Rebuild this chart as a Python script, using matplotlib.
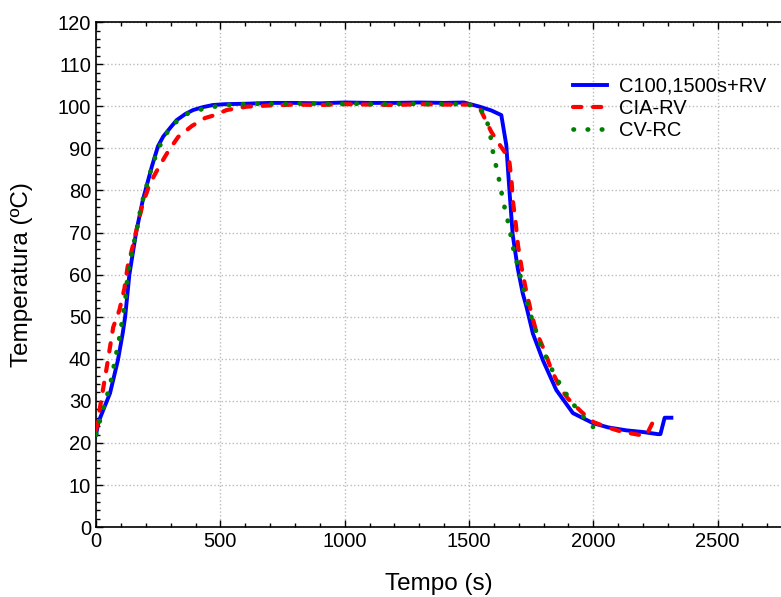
import numpy as np
import matplotlib
matplotlib.use("Agg")
import matplotlib.pyplot as plt
from matplotlib.ticker import MultipleLocator

plt.rcParams['font.family'] = ['Liberation Sans', 'DejaVu Sans']

# C100,1500s+RV
t_c100 = [0, 10, 30, 56, 88, 107, 117, 134, 161, 188, 224, 249, 270, 300, 324, 360, 390, 430, 470,
          520, 600, 700, 800, 900, 1000, 1100, 1200, 1300, 1400, 1480, 1543, 1590, 1630,
          1650, 1664, 1676, 1696, 1716, 1731, 1757, 1797, 1851, 1918, 1999, 2060, 2133,
          2200, 2259, 2270, 2287, 2314]
y_c100 = [22, 25, 28, 31.8, 39.7, 46, 50, 60, 70, 77.7, 85.6, 90.5, 92.8, 95, 96.7, 98.2, 99.1, 99.8, 100.3,
          100.5, 100.6, 100.8, 100.8, 100.7, 100.9, 100.8, 100.8, 100.9, 100.8, 100.9, 99.9, 99.0, 97.9,
          90.8, 78.9, 69.4, 61.5, 55.6, 52.4, 46, 39.7, 32.6, 27.1, 24.7, 23.7, 23,
          22.6, 22.1, 22.1, 26, 26]

# CIA-RV
t_cia = [0, 16, 43, 69, 94, 114, 127, 147, 167, 188, 217, 257, 289, 330, 385, 438, 478, 525,
         605, 700, 800, 900, 1000, 1100, 1200, 1300, 1400, 1500, 1543, 1557, 1590, 1624, 1661,
         1671, 1677, 1688, 1697, 1711, 1728, 1751, 1771, 1805, 1832, 1865, 1897, 1952, 1999,
         2052, 2113, 2187, 2215, 2230, 2240]
y_cia = [23, 28.5, 38, 47.5, 51.6, 56.7, 61.9, 66.6, 71.8, 76.9, 81.7, 86, 89.2, 92.7, 95.3, 97.2, 97.9, 99.1,
         99.9, 100.2, 100.4, 100.3, 100.5, 100.4, 100.3, 100.5, 100.4, 100.4, 99.6, 97.9, 93.9, 90.8, 87.6,
         82.4, 77.3, 72.2, 67, 61.9, 56.7, 50.8, 46.4, 41.7, 37.3, 33.3, 30.6, 27.4, 25,
         23.8, 22.7, 21.9, 22, 23.8, 25]

# CV-RC
t_cv = [0, 9, 16, 29, 43, 59, 69, 80, 90, 99, 107, 117, 127, 138, 147, 161, 171, 181, 197, 224,
        244, 264, 297, 330, 370, 425, 485, 550, 650, 750, 850, 950, 1050, 1150, 1250, 1350,
        1450, 1520, 1550, 1570, 1584, 1590, 1600, 1613, 1624, 1634, 1647, 1660, 1671, 1681,
        1697, 1711, 1724, 1737, 1755, 1773, 1791, 1813, 1835, 1857, 1885, 1912, 1938, 1972, 1999]
y_cv = [22, 22.6, 25.6, 28, 31, 34.5, 37.5, 40.9, 43.8, 46.8, 50, 53.5, 59.9, 63.2, 66.4, 69.7, 73, 76.3, 79.7, 85.6,
        88.8, 91.6, 94.8, 96.7, 98.3, 99.3, 100, 100.4, 100.6, 100.5, 100.7, 100.5, 100.6, 100.5, 100.6, 100.5,
        100.5, 100.3, 99.1, 96.7, 94.3, 91.2, 88, 84.8, 81.7, 78.5, 74.9, 71.8, 68.4, 65.4,
        61.9, 58.7, 55.5, 52.4, 49.2, 46, 42.8, 40.1, 37.3, 34.9, 32.2, 29.8, 27.8, 25.4, 23.8]

fig = plt.figure(figsize=(7.81, 5.97), dpi=100)
ax = fig.add_axes([0.123, 0.117, 0.877, 0.846])

ax.plot(t_c100, y_c100, color='#0000ff', lw=2.8, label='C100,1500s+RV', zorder=3)
ax.plot(t_cia, y_cia, color='#ff0000', lw=3, ls=(0, (2.0, 2.8)), dash_capstyle='round',
        label='CIA-RV', zorder=4)
ax.plot(t_cv, y_cv, color='#008000', lw=3.4, ls=(0, (0.1, 2.9)), dash_capstyle='round',
        label='CV-RC', zorder=5)

ax.set_xlim(0, 2755)
ax.set_ylim(0, 120)
ax.xaxis.set_major_locator(MultipleLocator(500))
ax.xaxis.set_minor_locator(MultipleLocator(100))
ax.yaxis.set_major_locator(MultipleLocator(10))
ax.yaxis.set_minor_locator(MultipleLocator(2))
ax.tick_params(which='both', direction='in', top=True, right=False, labelsize=14.5, width=1)
ax.tick_params(which='major', length=5)
ax.tick_params(which='minor', length=3)
ax.spines['right'].set_visible(False)
for s in ['left', 'bottom', 'top']:
    ax.spines[s].set_linewidth(1.2)
ax.grid(True, which='major', color='#bbbbbb', ls=':', lw=1)

ax.set_xlabel('Tempo (s)', fontsize=17.5, labelpad=16)
ax.set_ylabel('Temperatura (ºC)', fontsize=17.5, labelpad=18)

ax.legend(loc='upper left', bbox_to_anchor=(0.685, 0.908), frameon=False, fontsize=14.5,
          handlelength=1.65, handletextpad=0.6, labelspacing=0.15, borderaxespad=0)

fig.savefig('out.png', dpi=100)
